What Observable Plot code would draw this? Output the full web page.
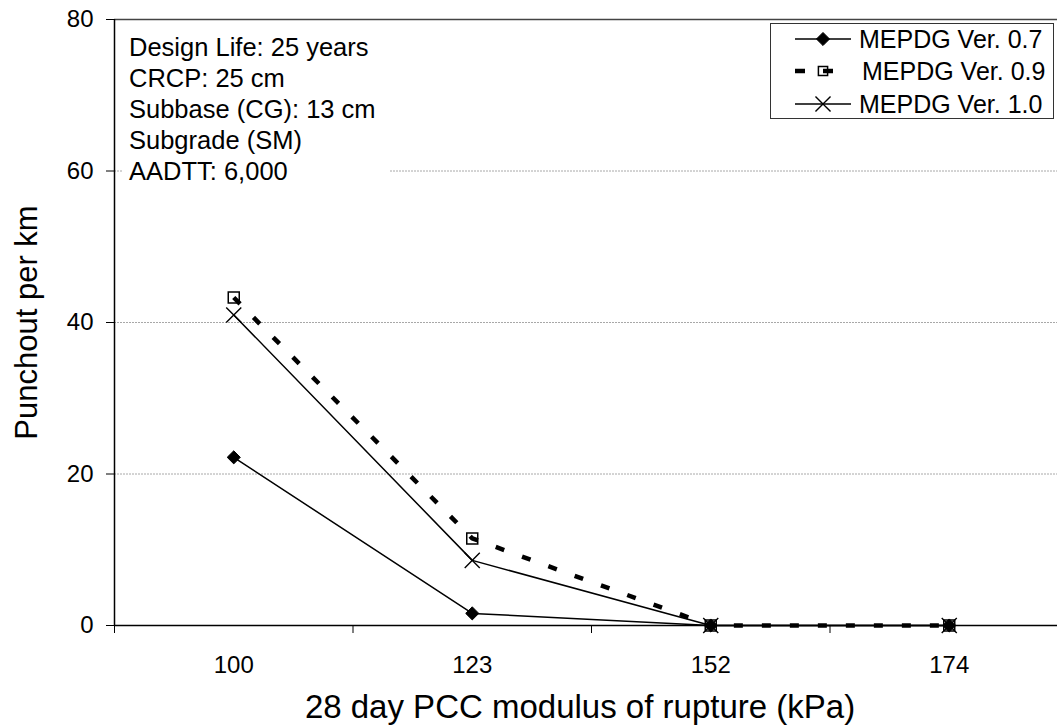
<!DOCTYPE html>
<html>
<head>
<meta charset="utf-8">
<script src="https://cdn.jsdelivr.net/npm/d3@7"></script>
<script src="https://cdn.jsdelivr.net/npm/@observablehq/plot@0.6"></script>
<style>
  html, body { margin: 0; padding: 0; background: #fff; overflow: hidden; }
  #wrap { position: relative; width: 1057px; height: 725px; font-family: "Liberation Sans", Arial, sans-serif; }
  #info { position: absolute; left: 123px; top: 26px; width: 260px; padding: 6px 0 6px 6px; background: #fff;
          font-size: 25.5px; line-height: 31px; color: #000; white-space: pre; }
  #legend { position: absolute; left: 770px; top: 23px; width: 282px; height: 94px; border: 1px solid #333; background: #fff; }
</style>
</head>
<body>
<div id="wrap"></div>
<script>
// ---- data ----
const categories = ["100", "123", "152", "174"];
const v07 = [22.2, 1.6, 0, 0];
const v09 = [43.3, 11.5, 0, 0];
const v10 = [41.0, 8.6, 0, 0];
const yTicks = [0, 20, 40, 60, 80];
const seriesNames = ["MEPDG Ver. 0.7", "MEPDG Ver. 0.9", "MEPDG Ver. 1.0"];
const infoLines = ["Design Life: 25 years", "CRCP: 25 cm", "Subbase (CG): 13 cm", "Subgrade (SM)", "AADTT: 6,000"];
const yLabel = "Punchout per km";
const xLabel = "28 day PCC modulus of rupture (kPa)";

const rows = (vals, s) => vals.map((v, i) => ({i, cat: categories[i], v, s}));
const r07 = rows(v07, seriesNames[0]);
const r09 = rows(v09, seriesNames[1]);
const r10 = rows(v10, seriesNames[2]);
const centers = categories.map((_, i) => i);
const bounds = [-0.5, ...categories.map((_, i) => i + 0.5)];

const font = "Liberation Sans, Arial, sans-serif";

const chart = Plot.plot({
  width: 1057,
  height: 725,
  marginTop: 19,
  marginBottom: 100,
  marginLeft: 114,
  marginRight: 0,
  style: {fontFamily: font, fontSize: "24px", background: "#fff", color: "#000"},
  x: {type: "linear", domain: [-0.5, categories.length - 0.5], range: [114, 1068]},
  y: {domain: [0, 80]},
  marks: [
    // gridlines
    Plot.ruleY(yTicks.filter(t => t > 0 && t < 80), {stroke: "#a8a8a8", strokeWidth: 1, strokeDasharray: "2,1"}),
    Plot.ruleY([80], {stroke: "#444", strokeWidth: 1.5}),
    // axes
    Plot.axisY({ticks: yTicks, tickSize: 8, tickPadding: 13, label: null, tickFormat: d => String(d)}),
    Plot.axisX({ticks: bounds, tickSize: 8, tickFormat: () => "", label: null}),
    Plot.axisX({ticks: centers, tickSize: 0, tickPadding: 30, tickFormat: i => categories[i], label: null}),
    Plot.ruleX([-0.5], {stroke: "#000", strokeWidth: 1.5}),
    Plot.ruleY([0], {stroke: "#000", strokeWidth: 1.5}),
    // series 0.7
    Plot.line(r07, {x: "i", y: "v", stroke: "#000", strokeWidth: 1.5}),
    Plot.dot(r07, {x: "i", y: "v", symbol: "diamond2", r: 5.9, fill: "#000", stroke: "#000", strokeWidth: 1}),
    // series 0.9
    Plot.line(r09, {x: "i", y: "v", stroke: "#000", strokeWidth: 4.5, strokeDasharray: "9,19", strokeLinecap: "butt"}),
    Plot.dot(r09, {x: "i", y: "v", symbol: "square", r: 6.2, fill: "none", stroke: "#000", strokeWidth: 1.5}),
    // series 1.0
    Plot.line(r10, {x: "i", y: "v", stroke: "#000", strokeWidth: 1.5}),
    Plot.dot(r10, {x: "i", y: "v", symbol: "times", r: 6.9, fill: "none", stroke: "#000", strokeWidth: 1.4}),
    // axis titles
    Plot.text([yLabel], {frameAnchor: "left", dx: -87, rotate: -90, fontSize: 31, textAnchor: "middle", lineAnchor: "middle", fill: "#000"}),
    Plot.text([xLabel], {frameAnchor: "bottom", dx: -6, dy: 92, fontSize: 33, textAnchor: "middle", lineAnchor: "bottom", fill: "#000"})
  ]
});

const wrap = document.getElementById("wrap");
wrap.appendChild(chart);

// info box
const info = document.createElement("div");
info.id = "info";
info.textContent = infoLines.join("\n");
wrap.appendChild(info);

// legend
const leg = document.createElement("div");
leg.id = "legend";
wrap.appendChild(leg);
const svg = d3.select(leg).append("svg").attr("width", 282).attr("height", 94)
  .style("font-family", font).style("font-size", "25px");
const rowY = [15, 47, 80];
const textX = [88, 91, 88];
const styles = [
  {w: 1.5, dash: null, sym: d3.symbolDiamond2, size: Math.PI * 5.9 * 5.9, fill: "#000", stroke: "#000", sw: 1},
  {w: 4.5, dash: "10,18", sym: d3.symbolSquare, size: Math.PI * 6.2 * 6.2 * 0.7, fill: "none", stroke: "#000", sw: 1.5},
  {w: 1.5, dash: null, sym: d3.symbolTimes, size: Math.PI * 6.9 * 6.9, fill: "none", stroke: "#000", sw: 1.4}
];
seriesNames.forEach((name, k) => {
  const st = styles[k];
  const g = svg.append("g").attr("transform", `translate(0,${rowY[k]})`);
  const ln = g.append("line").attr("x1", 24).attr("x2", 80).attr("y1", 0).attr("y2", 0)
    .attr("stroke", "#000").attr("stroke-width", st.w);
  if (st.dash) ln.attr("stroke-dasharray", st.dash);
  g.append("path").attr("transform", "translate(52,0)").attr("d", d3.symbol(st.sym, st.size)())
    .attr("fill", st.fill).attr("stroke", st.stroke).attr("stroke-width", st.sw);
  g.append("text").attr("x", textX[k]).attr("y", 0).attr("dy", "0.35em").text(name);
});
</script>
</body>
</html>
